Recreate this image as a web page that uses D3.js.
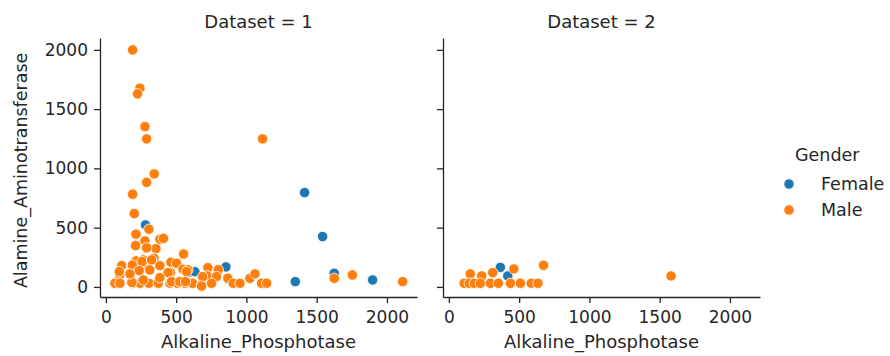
<!DOCTYPE html>
<html><head><meta charset="utf-8">
<script src="https://cdn.jsdelivr.net/npm/d3@7"></script>
<style>body{margin:0;background:#fff}svg{display:block}text{font-family:"DejaVu Sans",sans-serif;fill:#262626}</style>
</head><body><svg id="c" width="890" height="356"></svg>
<script>
const panels = ["Dataset = 1", "Dataset = 2"];
const genders = ["Female", "Male"];
const xTicks = [0, 500, 1000, 1500, 2000];
const yTicks = [0, 500, 1000, 1500, 2000];

// Dataset 1
const d1FemaleAlk = [282, 1414, 1542, 854, 590, 633, 1625, 1898, 1348];
const d1FemaleAla = [523, 796, 425, 169, 125, 129, 115, 59, 45];
const d1MaleAlk = [190, 242, 225, 278, 290, 1115, 344, 290, 190, 202, 306, 214, 384, 410, 278, 211, 356, 290, 553,
  266, 342, 214, 112, 188, 384, 463, 503, 240, 306, 548, 584, 726, 800, 460, 98, 174, 720, 787, 868, 1025, 1061,
  1625, 1754, 2112, 64, 100, 190, 242, 306, 373, 456, 508, 563, 617, 681, 752, 906, 954, 1108, 1144,
  258, 325, 95, 443, 574, 688, 384, 266, 185, 467, 526, 567, 681, 237, 313, 171];
const d1MaleAla = [2000, 1677, 1629, 1353, 1249, 1249, 954, 883, 782, 619, 487, 445, 402, 410, 388, 349, 323, 330, 278,
  228, 243, 220, 180, 185, 180, 208, 200, 138, 150, 150, 145, 163, 145, 122, 100, 100, 93, 87, 73, 73, 110,
  73, 101, 45, 31, 31, 31, 31, 31, 31, 31, 31, 31, 31, 17, 31, 31, 31, 31, 31,
  214, 228, 129, 121, 129, 87, 78, 59, 38, 45, 45, 45, 8, 138, 143, 110];

// Dataset 2
const d2FemaleAlk = [366, 419];
const d2FemaleAla = [165, 93];
const d2MaleAlk = [462, 673, 312, 233, 152, 109, 145, 181, 224, 295, 352, 438, 509, 586, 634, 1581];
const d2MaleAla = [152, 183, 121, 93, 110, 31, 31, 31, 31, 31, 31, 31, 31, 31, 31, 93];

const colors = {Female: "#1f77b4", Male: "#ff7f0e"};

const data = [
  {Female: d3.zip(d1FemaleAlk, d1FemaleAla), Male: d3.zip(d1MaleAlk, d1MaleAla)},
  {Female: d3.zip(d2FemaleAlk, d2FemaleAla), Male: d3.zip(d2MaleAlk, d2MaleAla)}
];

const svg = d3.select("#c");
const plotTop = 38, plotBottom = 297;
const panelX = [[100, 417], [443, 760]];
const y = d3.scaleLinear().domain([-85, 2100]).range([plotBottom, plotTop]);

panels.forEach((title, i) => {
  const [x0, x1] = panelX[i];
  const x = d3.scaleLinear().domain([-42, 2214]).range([x0, x1]);
  const g = svg.append("g");

  const xa = g.append("g").attr("transform", `translate(0,${plotBottom})`)
    .call(d3.axisBottom(x).tickValues(xTicks).tickSize(6).tickPadding(8).tickSizeOuter(0).tickFormat(d3.format("d")));
  const ya = g.append("g").attr("transform", `translate(${x0},0)`)
    .call(d3.axisLeft(y).tickValues(yTicks).tickSize(6).tickPadding(6).tickSizeOuter(0)
      .tickFormat(i === 0 ? d3.format("d") : () => ""));
  [xa, ya].forEach(a => {
    a.select(".domain").attr("stroke", "#262626").attr("stroke-width", 1.3);
    a.selectAll(".tick line").attr("stroke", "#262626").attr("stroke-width", 1.3);
    a.selectAll(".tick text").style("font-size", "17px").attr("fill", "#262626");
  });

  g.append("text").attr("x", (x0 + x1) / 2).attr("y", 28).attr("text-anchor", "middle")
    .style("font-size", "18px").text(title);
  g.append("text").attr("x", (x0 + x1) / 2).attr("y", 348).attr("text-anchor", "middle")
    .style("font-size", "18px").text("Alkaline_Phosphotase");

  genders.forEach(gn => {
    g.append("g").selectAll("circle").data(data[i][gn]).join("circle")
      .attr("cx", d => x(d[0])).attr("cy", d => y(d[1])).attr("r", 5.2)
      .attr("fill", colors[gn]).attr("stroke", "#fff").attr("stroke-width", 0.8);
  });
});

svg.append("text").attr("transform", `translate(27,${(y(0)+y(2000))/2 + 2}) rotate(-90)`)
  .attr("text-anchor", "middle").style("font-size", "17.5px").text("Alamine_Aminotransferase");

const lg = svg.append("g");
lg.append("text").attr("x", 795).attr("y", 161).style("font-size", "17.5px").text("Gender");
genders.forEach((gn, k) => {
  const yy = 184 + k * 26;
  lg.append("circle").attr("cx", 789).attr("cy", yy).attr("r", 5.2).attr("fill", colors[gn])
    .attr("stroke", "#fff").attr("stroke-width", 0.8);
  lg.append("text").attr("x", 821).attr("y", yy + 6).style("font-size", "17.5px").text(gn);
});
</script></body></html>
